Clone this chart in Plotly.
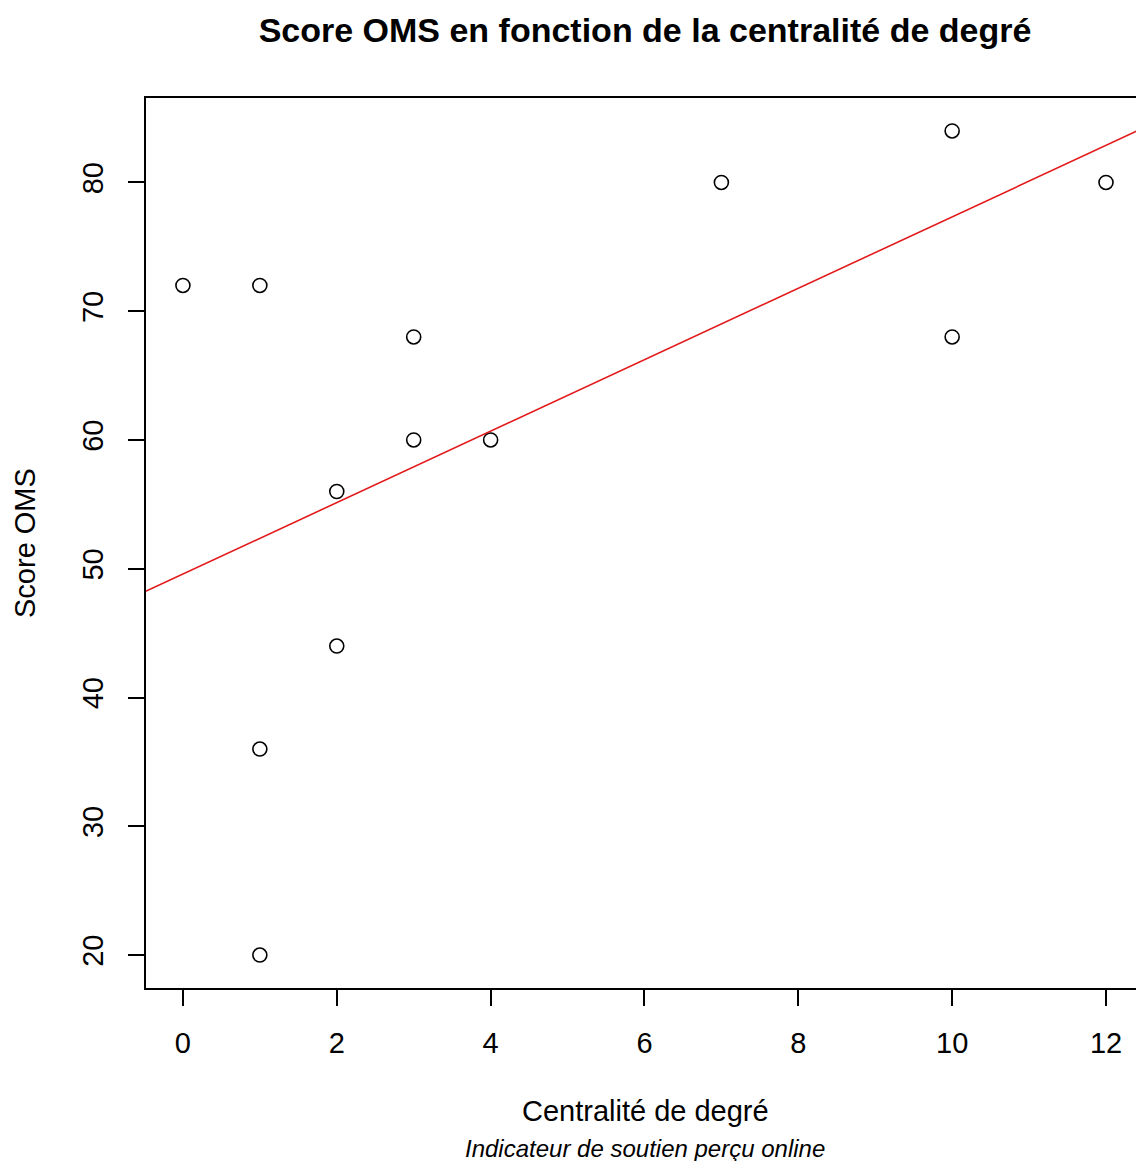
import numpy as np
import plotly.graph_objects as go

# Data
centralite = [0, 1, 1, 1, 2, 2, 3, 3, 4, 7, 10, 10, 12]
score_oms = [72, 72, 36, 20, 56, 44, 68, 60, 60, 80, 84, 68, 80]
x_ticks = [0, 2, 4, 6, 8, 10, 12]
y_ticks = [20, 30, 40, 50, 60, 70, 80]

title_text = "<b>Score OMS en fonction de la centralité de degré</b>"
xlab = "Centralité de degré"
sublab = "<i>Indicateur de soutien perçu online</i>"
ylab = "Score OMS"

# Linear regression (abline of lm)
slope, intercept = np.polyfit(centralite, score_oms, 1)
x_range = [-0.48, 12.39]
line_x = [-1, 13]
line_y = [intercept + slope * v for v in line_x]

FONT = "Liberation Sans, Arial, sans-serif"

fig = go.Figure()
fig.add_trace(go.Scatter(
    x=centralite, y=score_oms, mode="markers",
    marker=dict(symbol="circle-open", size=14, color="black", line=dict(width=1.6, color="black")),
    showlegend=False, cliponaxis=False,
))
fig.add_trace(go.Scatter(
    x=line_x, y=line_y, mode="lines",
    line=dict(color="#e31a1c", width=1.6),
    showlegend=False,
))

fig.update_layout(
    width=1136, height=1161,
    margin=dict(l=146, r=0, t=98, b=173),
    paper_bgcolor="white", plot_bgcolor="white",
    font=dict(family=FONT, color="black"),
    title=dict(text=title_text, x=645 / 1136, xref="container", xanchor="center",
               y=1 - 30 / 1161, yref="container", yanchor="middle",
               font=dict(size=34, family=FONT, color="black")),
    xaxis=dict(range=x_range, tickvals=x_ticks, ticks="outside", ticklen=16, tickwidth=1.6,
               tickcolor="black", showline=True, linecolor="black", linewidth=1.8, mirror=True,
               showgrid=False, zeroline=False, tickfont=dict(size=29, family=FONT, color="black"),
               ticklabelstandoff=12),
    yaxis=dict(range=[17.44, 86.56], tickvals=y_ticks, ticks="outside", ticklen=16, tickwidth=1.6,
               tickcolor="black", showline=True, linecolor="black", linewidth=1.8, mirror=False,
               showgrid=False, zeroline=False, tickangle=-90,
               tickfont=dict(size=29, family=FONT, color="black"), ticklabelstandoff=14),
    annotations=[
        dict(text=xlab, xref="paper", yref="paper", x=(645 - 146) / 990, y=0,
             yshift=-(1111 - 988), xanchor="center", yanchor="middle", showarrow=False,
             font=dict(size=29, family=FONT, color="black")),
        dict(text=sublab, xref="paper", yref="paper", x=(645 - 146) / 990, y=0,
             yshift=-(1148 - 988), xanchor="center", yanchor="middle", showarrow=False,
             font=dict(size=24, family=FONT, color="black")),
        dict(text=ylab, xref="paper", yref="paper", x=0, y=(988 - 543) / 890,
             xshift=-(146 - 25), xanchor="center", yanchor="middle", textangle=-90,
             showarrow=False, font=dict(size=29, family=FONT, color="black")),
    ],
)

fig.write_html("out.html")
